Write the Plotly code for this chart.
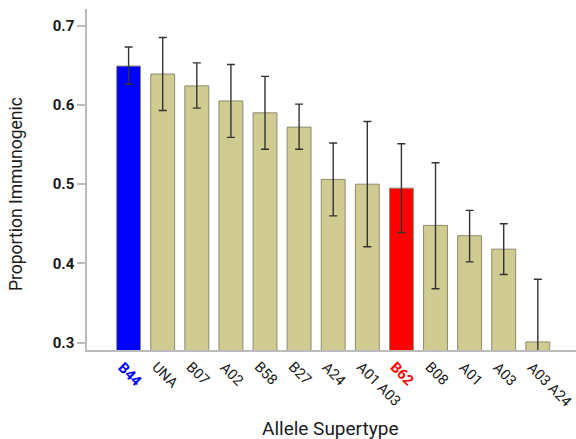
import plotly.graph_objects as go

# Immunogenic proportion per HLA allele supertype, with 95% CI bounds
supertypes = ["B44", "UNA", "B07", "A02", "B58", "B27", "A24",
              "A01 A03", "B62", "B08", "A01", "A03", "A03 A24"]
proportion = [0.649, 0.639, 0.624, 0.605, 0.590, 0.572, 0.506,
              0.500, 0.495, 0.448, 0.435, 0.418, 0.301]
ci_upper = [0.673, 0.685, 0.653, 0.651, 0.636, 0.601, 0.552,
            0.579, 0.551, 0.527, 0.467, 0.450, 0.380]
ci_lower = [0.626, 0.593, 0.596, 0.559, 0.544, 0.544, 0.460,
            0.421, 0.439, 0.368, 0.402, 0.386, 0.222]

highlight = {"B44": "#0000FF", "B62": "#FF0000"}
base_colour = "#D0CB90"

bar_colours = [highlight.get(s, base_colour) for s in supertypes]
label_text = [f"<b>{s}</b>" if s in highlight else s for s in supertypes]
label_colours = [highlight.get(s, "#1A1A1A") for s in supertypes]

err_plus = [u - p for u, p in zip(ci_upper, proportion)]
err_minus = [p - l for p, l in zip(proportion, ci_lower)]
x_pos = list(range(len(supertypes)))

fig = go.Figure(go.Bar(
    x=x_pos,
    y=proportion,
    width=0.70,
    marker=dict(color=bar_colours, line=dict(color="#8C8A6E", width=1)),
    error_y=dict(type="data", symmetric=False, array=err_plus, arrayminus=err_minus,
                 color="#333333", thickness=1.4, width=4),
))

L, R, T, B = 87, 0, 9, 89
W, H = 576, 439

fig.update_layout(
    width=W, height=H,
    margin=dict(l=L, r=R, t=T, b=B, autoexpand=False),
    paper_bgcolor="white", plot_bgcolor="white",
    font=dict(family="Roboto", color="#1A1A1A"),
    showlegend=False,
    xaxis=dict(
        range=[-1.22, 13.12], automargin=False,
        tickvals=x_pos, showticklabels=False,
        showline=True, linecolor="#BBBBBB", linewidth=1.5,
        ticks="", showgrid=False, zeroline=False,
    ),
    yaxis=dict(
        range=[0.2908, 0.721], automargin=False,
        tickvals=[0.3, 0.4, 0.5, 0.6, 0.7], ticktext=["0.3", "0.4", "0.5", "0.6", "0.7"],
        tickfont=dict(size=15, color="#1A1A1A", weight="bold"),
        showline=True, linecolor="#BBBBBB", linewidth=1.5,
        ticks="outside", ticklen=8, tickcolor="#BBBBBB", tickwidth=1.5,
        showgrid=False, zeroline=False,
    ),
)

# Slanted category labels hanging below the x axis
for xi, txt, col in zip(x_pos, label_text, label_colours):
    fig.add_annotation(text=txt, x=xi, y=0, xref="x", yref="paper",
                       showarrow=False, textangle=45,
                       xanchor="left", yanchor="top", xshift=-17, yshift=-6,
                       font=dict(size=14.5, color=col))

# Axis titles placed by pixel position within the figure
def px_to_paper(px_x, px_y):
    return (px_x - L) / (W - L - R), (H - px_y - B) / (H - T - B)

yx, yy = px_to_paper(16, 194)
xx, xy = px_to_paper(330, 428)
fig.add_annotation(text="Proportion Immunogenic", x=yx, y=yy, xref="paper", yref="paper",
                   showarrow=False, textangle=-90, font=dict(size=17.5, color="#1A1A1A"),
                   xanchor="center", yanchor="middle")
fig.add_annotation(text="Allele Supertype", x=xx, y=xy, xref="paper", yref="paper",
                   showarrow=False, font=dict(size=19, color="#1A1A1A"),
                   xanchor="center", yanchor="middle")

fig.write_html("out.html")
